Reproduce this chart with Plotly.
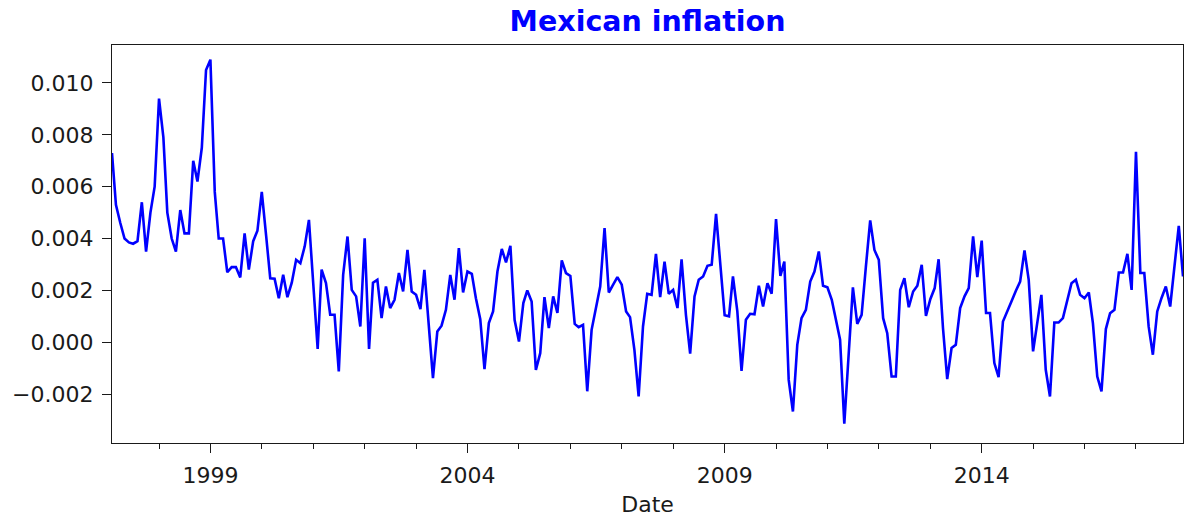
import pandas as pd
import plotly.graph_objects as go

# Monthly inflation rate, Feb 1997 - Dec 2017
start_month = "1997-02-01"
inflation = [
    0.0073, 0.0053, 0.0046, 0.0040, 0.00385, 0.0038, 0.0039, 0.0054, 0.0035, 0.0050, 0.0060,
    0.0094, 0.0079, 0.0050, 0.0040, 0.0035, 0.0051, 0.0042, 0.0042, 0.0070, 0.0062, 0.0075, 0.0105,
    0.0109, 0.0058, 0.0040, 0.0040, 0.0027, 0.0029, 0.0029, 0.0025, 0.0042, 0.0028, 0.0039, 0.0043,
    0.0058, 0.0041, 0.00247, 0.00245, 0.0017, 0.0026, 0.00174, 0.0023, 0.00318, 0.00305, 0.0037, 0.00472,
    0.0022, -0.00026, 0.0028, 0.00228, 0.00106, 0.00106, -0.00112, 0.0026, 0.00408, 0.00202, 0.00177, 0.00061,
    0.00401, -0.00026, 0.0023, 0.00241, 0.00093, 0.00215, 0.00132, 0.00164, 0.00267, 0.00196, 0.00356, 0.00196,
    0.00183, 0.00128, 0.00279, 0.00074, -0.00138, 0.00042, 0.00064, 0.00125, 0.0026, 0.00164, 0.00363, 0.00192,
    0.00273, 0.00264, 0.0017, 0.00089, -0.00104, 0.00074, 0.00119, 0.00273, 0.0036, 0.00308, 0.00372, 0.00086,
    0.00003, 0.00151, 0.0020, 0.00157, -0.00107, -0.00042, 0.00174, 0.00055, 0.00177, 0.00113, 0.00316, 0.00267,
    0.00256, 0.00071, 0.00058, 0.00067, -0.00189, 0.00048, 0.00125, 0.00215, 0.0044, 0.00192, 0.00222, 0.00251,
    0.00222, 0.00119, 0.00097, -0.00029, -0.00209, 0.00061, 0.00187, 0.00183, 0.00341, 0.00174, 0.00311, 0.00187,
    0.00202, 0.00132, 0.0032, 0.00106, -0.00044, 0.00177, 0.00241, 0.00254, 0.00295, 0.00299, 0.00495, 0.0030,
    0.00104, 0.0010, 0.00254, 0.0012, -0.0011, 0.00087, 0.0011, 0.00108, 0.00218, 0.00138, 0.00228, 0.00187,
    0.00475, 0.00256, 0.00311, -0.00145, -0.00267, -0.0001, 0.00093, 0.00125, 0.00234, 0.00273, 0.0035, 0.00218,
    0.00212, 0.00164, 0.00093, 0.0001, -0.00314, -0.0004, 0.00212, 0.00071, 0.00106, 0.0029, 0.0047, 0.00356,
    0.00318, 0.00093, 0.00035, -0.00132, -0.00132, 0.00202, 0.00247, 0.00135, 0.00196, 0.00218, 0.00299, 0.00102,
    0.00166, 0.00209, 0.0032, 0.00055, -0.00142, -0.00022, -0.0001, 0.00132, 0.00177, 0.00209, 0.00408, 0.00251,
    0.00392, 0.00113, 0.00113, -0.0008, -0.00134, 0.0008, 0.00122, 0.00158, 0.00199, 0.00234, 0.00354, 0.00241,
    -0.00035, 0.0008, 0.00183, -0.00106, -0.00209, 0.00076, 0.00076, 0.00093, 0.00164, 0.00228, 0.00241, 0.00183,
    0.0017, 0.00192, 0.00074, -0.00132, -0.00189, 0.00051, 0.00112, 0.00125, 0.00269, 0.00269, 0.00341, 0.00202,
    0.00735, 0.00267, 0.00267, 0.00061, -0.00048, 0.00119, 0.0017, 0.00215, 0.00138, 0.00292, 0.00449, 0.00254,
]
dates = pd.date_range(start_month, periods=len(inflation), freq="MS")

year_ticks = ["1999-01-01", "2004-01-01", "2009-01-01", "2014-01-01"]
year_labels = ["1999", "2004", "2009", "2014"]
y_ticks = [-0.002, 0.000, 0.002, 0.004, 0.006, 0.008, 0.010]

font = "DejaVu Sans"
ink = "#1a1a1a"

fig = go.Figure(
    go.Scatter(
        x=dates,
        y=inflation,
        mode="lines",
        line=dict(color="#0000ff", width=2.6),
        hoverinfo="x+y",
    )
)

fig.update_layout(
    width=1185,
    height=520,
    margin=dict(l=112, r=2, t=45, b=77),
    paper_bgcolor="white",
    plot_bgcolor="white",
    showlegend=False,
    font=dict(family=font, size=22, color=ink),
    title=dict(
        text="<b>Mexican inflation</b>",
        x=(112 + 1183) / 2 / 1185,
        xanchor="center",
        y=1 - 21 / 520,
        yanchor="middle",
        font=dict(family=font, size=28.5, color="#0000ff"),
    ),
)

fig.update_xaxes(
    range=[dates[0], dates[-1]],
    tickvals=year_ticks,
    ticktext=year_labels,
    ticks="outside",
    ticklen=9,
    tickwidth=1.3,
    tickcolor=ink,
    ticklabelstandoff=3,
    minor=dict(
        ticks="outside",
        ticklen=5,
        tickwidth=1.2,
        tickcolor=ink,
        dtick="M12",
        tick0="1998-01-01",
    ),
    showline=True,
    linecolor=ink,
    linewidth=1.4,
    mirror=True,
    showgrid=False,
    zeroline=False,
    title=dict(text="Date", font=dict(family=font, size=22, color=ink), standoff=10),
)

fig.update_yaxes(
    range=[-0.003884, 0.011464],
    tickvals=y_ticks,
    tickformat=".3f",
    ticks="outside",
    ticklen=9,
    tickwidth=1.3,
    tickcolor=ink,
    ticklabelstandoff=4,
    showline=True,
    linecolor=ink,
    linewidth=1.4,
    mirror=True,
    showgrid=False,
    zeroline=False,
)

fig.write_html("out.html")
